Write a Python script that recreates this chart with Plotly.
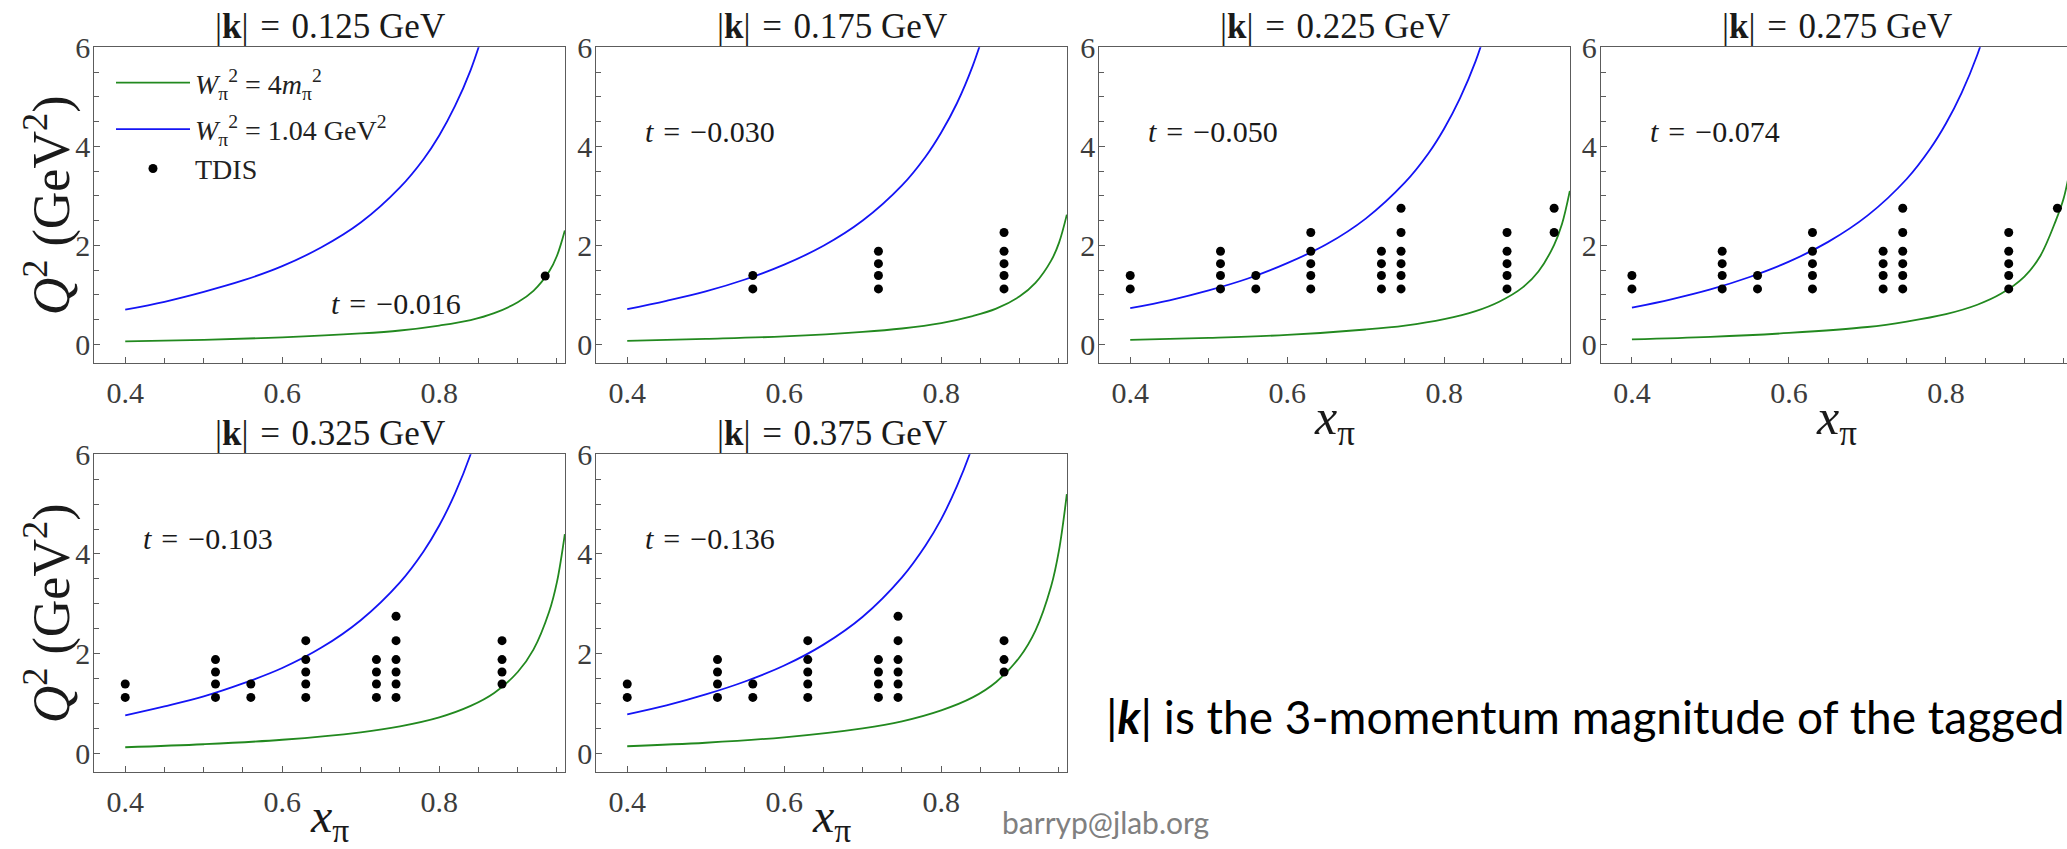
import plotly.graph_objects as go

# ---------------- data ----------------
k_labels = ["0.125", "0.175", "0.225", "0.275", "0.325", "0.375"]
t_labels = ["−0.016", "−0.030", "−0.050", "−0.074", "−0.103", "−0.136"]

# W_pi^2 = 1.04 GeV^2 curves (blue)
blue_x = [0.40, 0.45, 0.50, 0.55, 0.60, 0.65, 0.70, 0.75, 0.78, 0.80, 0.82, 0.84, 0.86]
blue_q2_k125 = [0.70, 0.86, 1.06, 1.29, 1.58, 1.96, 2.46, 3.17, 3.74, 4.22, 4.81, 5.54, 6.49]
blue_q2_k175 = [0.71, 0.88, 1.07, 1.31, 1.61, 1.99, 2.50, 3.21, 3.79, 4.28, 4.87, 5.62, 6.57]
blue_q2_k225 = [0.73, 0.89, 1.09, 1.33, 1.64, 2.02, 2.54, 3.27, 3.86, 4.36, 4.97, 5.72, 6.70]
blue_q2_k275 = [0.74, 0.91, 1.11, 1.36, 1.67, 2.07, 2.60, 3.34, 3.95, 4.46, 5.08, 5.85, 6.84]
blue_q2_k325 = [0.76, 0.94, 1.14, 1.40, 1.71, 2.12, 2.67, 3.43, 4.05, 4.57, 5.21, 6.00, 7.02]
blue_q2_k375 = [0.78, 0.96, 1.18, 1.44, 1.76, 2.18, 2.74, 3.53, 4.17, 4.70, 5.36, 6.17, 7.22]

# W_pi^2 = 4 m_pi^2 curves (green)
green_x = [0.40, 0.50, 0.60, 0.70, 0.75, 0.80, 0.84, 0.87, 0.90, 0.92, 0.94, 0.95, 0.96]
green_q2_k125 = [0.06, 0.09, 0.14, 0.22, 0.28, 0.38, 0.49, 0.63, 0.85, 1.08, 1.47, 1.79, 2.30]
green_q2_k175 = [0.07, 0.11, 0.16, 0.25, 0.32, 0.43, 0.57, 0.72, 0.97, 1.24, 1.69, 2.05, 2.62]
green_q2_k225 = [0.09, 0.13, 0.19, 0.30, 0.38, 0.51, 0.67, 0.86, 1.15, 1.47, 2.01, 2.43, 3.10]
green_q2_k275 = [0.10, 0.15, 0.23, 0.35, 0.46, 0.61, 0.80, 1.02, 1.37, 1.78, 2.50, 2.95, 3.70]
green_q2_k325 = [0.12, 0.18, 0.27, 0.42, 0.54, 0.72, 0.95, 1.21, 1.63, 2.08, 2.84, 3.44, 4.40]
green_q2_k375 = [0.14, 0.21, 0.32, 0.50, 0.64, 0.86, 1.12, 1.43, 1.93, 2.46, 3.35, 4.07, 5.20]

# TDIS kinematic points
tdis_x_k125 = [0.935]
tdis_q2_k125 = [1.38]
tdis_x_k175 = [0.56, 0.56, 0.72, 0.72, 0.72, 0.72, 0.88, 0.88, 0.88, 0.88, 0.88]
tdis_q2_k175 = [1.12, 1.39, 1.12, 1.39, 1.63, 1.88, 1.12, 1.39, 1.63, 1.88, 2.26]
tdis_x_k225 = [0.40, 0.40, 0.515, 0.515, 0.515, 0.515, 0.56, 0.56,
               0.63, 0.63, 0.63, 0.63, 0.63, 0.72, 0.72, 0.72, 0.72,
               0.745, 0.745, 0.745, 0.745, 0.745, 0.745,
               0.88, 0.88, 0.88, 0.88, 0.88, 0.94, 0.94]
tdis_q2_k225 = [1.12, 1.39, 1.12, 1.39, 1.63, 1.88, 1.12, 1.39,
                1.12, 1.39, 1.63, 1.88, 2.26, 1.12, 1.39, 1.63, 1.88,
                1.12, 1.39, 1.63, 1.88, 2.26, 2.75,
                1.12, 1.39, 1.63, 1.88, 2.26, 2.26, 2.75]
tdis_x_k275 = [0.40, 0.40, 0.515, 0.515, 0.515, 0.515, 0.56, 0.56,
               0.63, 0.63, 0.63, 0.63, 0.63, 0.72, 0.72, 0.72, 0.72,
               0.745, 0.745, 0.745, 0.745, 0.745, 0.745,
               0.88, 0.88, 0.88, 0.88, 0.88, 0.942]
tdis_q2_k275 = [1.12, 1.39, 1.12, 1.39, 1.63, 1.88, 1.12, 1.39,
                1.12, 1.39, 1.63, 1.88, 2.26, 1.12, 1.39, 1.63, 1.88,
                1.12, 1.39, 1.63, 1.88, 2.26, 2.75,
                1.12, 1.39, 1.63, 1.88, 2.26, 2.75]
tdis_x_k325 = [0.40, 0.40, 0.515, 0.515, 0.515, 0.515, 0.56, 0.56,
               0.63, 0.63, 0.63, 0.63, 0.63, 0.72, 0.72, 0.72, 0.72,
               0.745, 0.745, 0.745, 0.745, 0.745, 0.745,
               0.88, 0.88, 0.88, 0.88]
tdis_q2_k325 = [1.12, 1.39, 1.12, 1.39, 1.63, 1.88, 1.12, 1.39,
                1.12, 1.39, 1.63, 1.88, 2.26, 1.12, 1.39, 1.63, 1.88,
                1.12, 1.39, 1.63, 1.88, 2.26, 2.75,
                1.39, 1.63, 1.88, 2.26]
tdis_x_k375 = [0.40, 0.40, 0.515, 0.515, 0.515, 0.515, 0.56, 0.56,
               0.63, 0.63, 0.63, 0.63, 0.63, 0.72, 0.72, 0.72, 0.72,
               0.745, 0.745, 0.745, 0.745, 0.745, 0.745,
               0.88, 0.88, 0.88]
tdis_q2_k375 = [1.12, 1.39, 1.12, 1.39, 1.63, 1.88, 1.12, 1.39,
                1.12, 1.39, 1.63, 1.88, 2.26, 1.12, 1.39, 1.63, 1.88,
                1.12, 1.39, 1.63, 1.88, 2.26, 2.75,
                1.63, 1.88, 2.26]

x_ticks = [0.4, 0.6, 0.8]
y_ticks = [0, 2, 4, 6]

blue_sets = [blue_q2_k125, blue_q2_k175, blue_q2_k225, blue_q2_k275, blue_q2_k325, blue_q2_k375]
green_sets = [green_q2_k125, green_q2_k175, green_q2_k225, green_q2_k275, green_q2_k325, green_q2_k375]
tdis_x_sets = [tdis_x_k125, tdis_x_k175, tdis_x_k225, tdis_x_k275, tdis_x_k325, tdis_x_k375]
tdis_q_sets = [tdis_q2_k125, tdis_q2_k175, tdis_q2_k225, tdis_q2_k275, tdis_q2_k325, tdis_q2_k375]

# ---------------- layout geometry ----------------
W, H = 2067, 849
PW = 471.0
lefts = [94.3, 596.3, 1099.3, 1601.0, 94.3, 596.3]
tops = [47.3, 47.3, 47.3, 47.3, 454.3, 454.3]
bots = [363.3, 363.3, 363.3, 363.3, 772.3, 772.3]
XMIN = 0.3606
PX_PER_X = 785.0
YR = [-0.383, 6.0]

SERIF = "Liberation Serif"
BLUE = "#1414f5"
GREEN = "#22891f"
FRAME = "#5c5c5c"

fig = go.Figure()
annotations = []

for i in range(6):
    sfx = "" if i == 0 else str(i + 1)
    xa, ya = "x" + sfx, "y" + sfx
    right_px = min(lefts[i] + PW, W)
    x_dom = [lefts[i] / W, right_px / W]
    y_dom = [1 - bots[i] / H, 1 - tops[i] / H]
    x_max = XMIN + (right_px - lefts[i]) / PX_PER_X

    fig.add_trace(go.Scatter(x=green_x, y=green_sets[i], mode="lines", line=dict(color=GREEN, width=1.8, shape="spline"),
                             name="<i>W</i><sub>π</sub><sup>2</sup> = 4<i>m</i><sub>π</sub><sup>2</sup>",
                             legendgroup="g", showlegend=(i == 0), xaxis=xa, yaxis=ya))
    fig.add_trace(go.Scatter(x=blue_x, y=blue_sets[i], mode="lines", line=dict(color=BLUE, width=1.8, shape="spline"),
                             name="<i>W</i><sub>π</sub><sup>2</sup> = 1.04 GeV<sup>2</sup>",
                             legendgroup="b", showlegend=(i == 0), xaxis=xa, yaxis=ya))
    fig.add_trace(go.Scatter(x=tdis_x_sets[i], y=tdis_q_sets[i], mode="markers",
                             marker=dict(color="black", size=9), name="TDIS",
                             legendgroup="b", showlegend=(i == 0), xaxis=xa, yaxis=ya, cliponaxis=False))

    common = dict(showline=True, linecolor=FRAME, linewidth=1.3, ticks="inside", tickcolor=FRAME,
                  ticklen=6, tickwidth=1, showgrid=False, zeroline=False, automargin=False,
                  tickfont=dict(family=SERIF, size=30, color="#3c3c3c"))
    fig.update_layout(**{
        "xaxis" + sfx: dict(common, domain=x_dom, range=[XMIN, x_max], anchor=ya, mirror=True,
                            tickmode="array", tickvals=x_ticks, ticktext=["0.4", "0.6", "0.8"],
                            minor=dict(dtick=0.05, tick0=0.4, ticks="inside", ticklen=5, tickcolor=FRAME),
                            ticklabelstandoff=3),
        "yaxis" + sfx: dict(common, domain=y_dom, range=YR, anchor=xa, mirror=(i != 3),
                            tickmode="array", tickvals=y_ticks, ticktext=[str(v) for v in y_ticks],
                            minor=dict(dtick=0.5, tick0=0, ticks="inside", ticklen=5, tickcolor=FRAME),
                            ticklabelstandoff=-3),
    })

    cx = (lefts[i] + PW / 2) / W
    annotations.append(dict(xref="paper", yref="paper", x=cx, y=1 - (tops[i] - 21) / H,
                            text="|<b>k</b>|\u2004=\u20040." + k_labels[i][2:] + " GeV",
                            showarrow=False, xanchor="center", yanchor="middle",
                            font=dict(family=SERIF, size=35, color="#1a1a1a")))
    if i == 0:
        tx, ty = 0.66, 0.83
    else:
        tx, ty = 0.42, 4.3
    annotations.append(dict(xref=xa, yref=ya, x=tx, y=ty, text="<i>t</i>\u2004=\u2004" + t_labels[i],
                            showarrow=False, xanchor="left", yanchor="middle",
                            font=dict(family=SERIF, size=30, color="#1a1a1a")))
    if i in (2, 3, 4, 5):
        xp_y = bots[i] + 58 if i < 4 else 819
        annotations.append(dict(xref="paper", yref="paper", x=cx, y=1 - xp_y / H,
                                text="<i>x</i><sub>π</sub>", showarrow=False, xanchor="center", yanchor="middle",
                                font=dict(family=SERIF, size=48 if i >= 4 else 50, color="#1a1a1a")))
    if i in (0, 4):
        annotations.append(dict(xref="paper", yref="paper", x=48 / W, y=1 - (tops[i] + bots[i]) / 2 / H,
                                text="<i>Q</i><sup>2</sup> (GeV<sup>2</sup>)", textangle=-90, showarrow=False,
                                xanchor="center", yanchor="middle",
                                font=dict(family=SERIF, size=52, color="#1a1a1a")))

annotations.append(dict(xref="paper", yref="paper", x=1104 / W, y=1 - 716 / H,
                        text="|<b><i>k</i></b>| is the 3-momentum magnitude of the tagged",
                        showarrow=False, xanchor="left", yanchor="middle",
                        font=dict(family="Lato", size=46, color="black")))
annotations.append(dict(xref="paper", yref="paper", x=1000 / W, y=1 - 822 / H,
                        text="barryp@jlab.org", showarrow=False, xanchor="left", yanchor="middle",
                        font=dict(family="Lato", size=30, color="#808080")))

fig.update_layout(
    width=W, height=H, margin=dict(l=0, r=0, t=0, b=0, autoexpand=False),
    paper_bgcolor="white", plot_bgcolor="white",
    annotations=annotations,
    legend=dict(x=111 / W, y=1 - 58 / H, xanchor="left", yanchor="top", itemwidth=74,
                traceorder="grouped", tracegroupgap=7,
                font=dict(family=SERIF, size=28, color="#222"),
                bgcolor="rgba(0,0,0,0)", borderwidth=0),
)

fig.write_html("out.html", config={"displayModeBar": False},
               post_script="document.body.style.margin='0';document.body.style.overflow='hidden';")
